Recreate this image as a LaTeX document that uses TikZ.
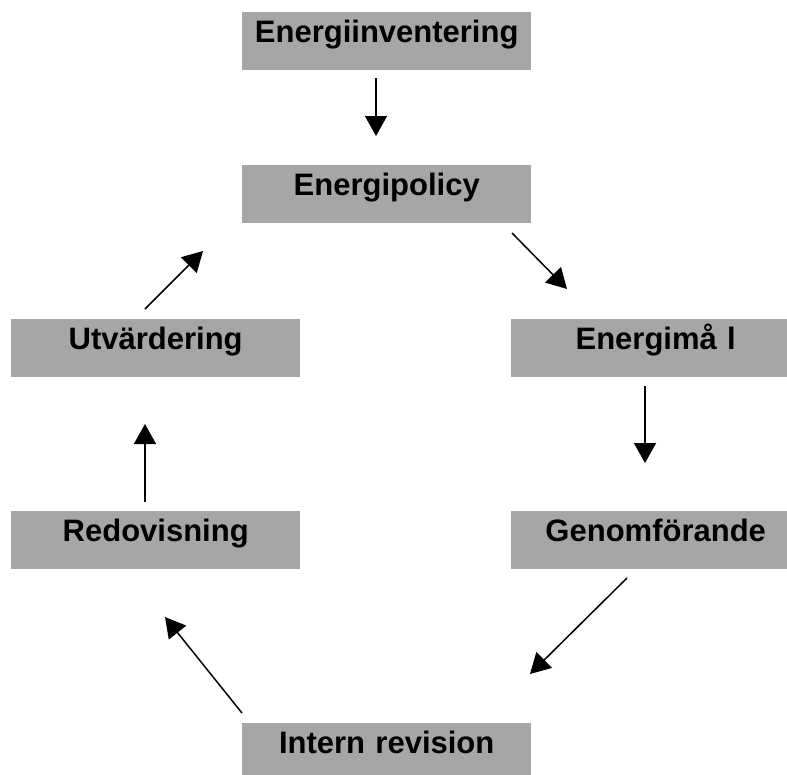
\documentclass[tikz,border=0pt]{standalone}
\usepackage{fontspec}
\setmainfont{Liberation Sans}
\usetikzlibrary{arrows.meta}
\definecolor{boxgray}{RGB}{166,166,166}
\tikzset{
  stage/.style={rectangle, fill=boxgray, anchor=north west, inner sep=0pt,
    text width=289pt, align=center, text height=30pt, text depth=28pt,
    font=\fontsize{31}{31}\selectfont\bfseries},
  flow/.style={line width=1.5pt, -{Triangle[length=20pt,width=22pt]}}
}
\begin{document}
\begin{tikzpicture}[x=1pt,y=-1pt]
\useasboundingbox (0,0) rectangle (787,774);
\clip (0,0) rectangle (787,774);
\node[stage] (inv) at (242,12) {Energiinventering};
\node[stage] (pol) at (242,165) {Energipolicy};
\node[stage] (utv) at (11,319) {Utvärdering};
\node[stage] (mal) at (511,319) {Energimå l};
\node[stage] (red) at (11,511) {Redovisning};
\node[stage] (gen) at (511,511) {Genomförande};
\node[stage] (rev) at (242,723) {Intern revision};
\coordinate (a1s) at (376,78);  \coordinate (a1e) at (376,136);
\coordinate (a2s) at (512,233); \coordinate (a2e) at (567,289);
\coordinate (a3s) at (645,386); \coordinate (a3e) at (645,463);
\coordinate (a4s) at (627,578); \coordinate (a4e) at (530,674);
\coordinate (a5s) at (242,713); \coordinate (a5e) at (165,617);
\coordinate (a6s) at (145,502); \coordinate (a6e) at (145,424);
\coordinate (a7s) at (145,309); \coordinate (a7e) at (203,251);
\draw[flow] (a1s) -- (a1e);
\draw[flow] (a2s) -- (a2e);
\draw[flow] (a3s) -- (a3e);
\draw[flow] (a4s) -- (a4e);
\draw[flow] (a5s) -- (a5e);
\draw[flow] (a6s) -- (a6e);
\draw[flow] (a7s) -- (a7e);
\end{tikzpicture}
\end{document}
